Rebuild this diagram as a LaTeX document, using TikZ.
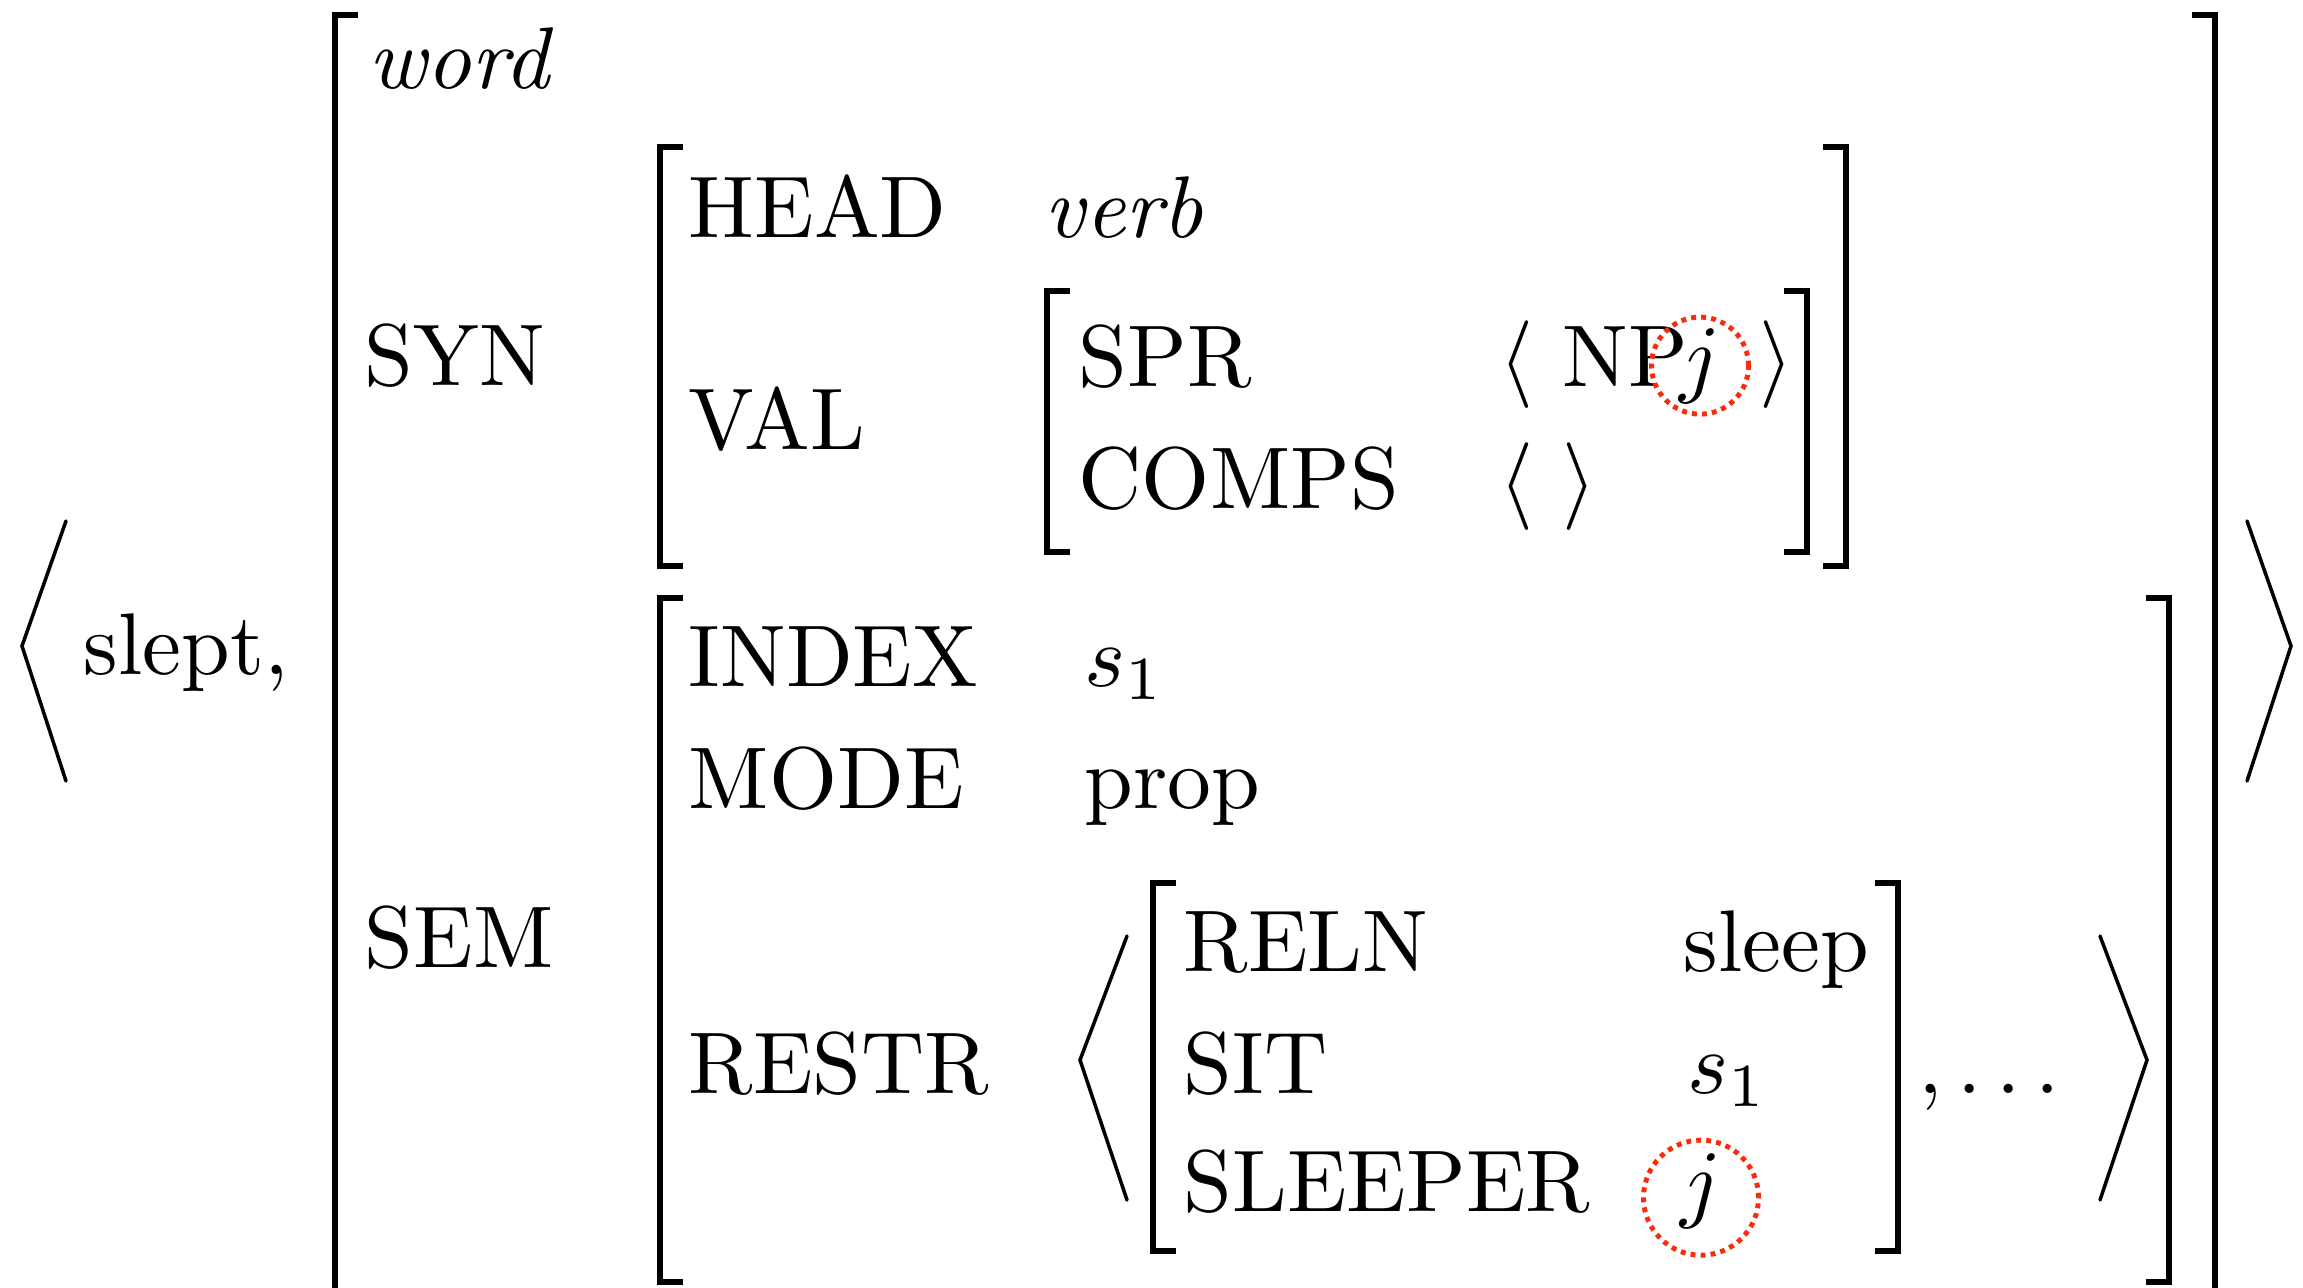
\documentclass[tikz,border=0pt]{standalone}
\usetikzlibrary{positioning}
\definecolor{corefred}{HTML}{FA2A0A}
\tikzset{
  avm/.style={font=\normalsize, scale=2.49, transform shape, inner sep=0pt, anchor=base west},
  feat/.style={avm},
  tval/.style={avm, font=\normalsize\itshape},
  brk/.style={line width=1.6pt},
  angl/.style={line width=1pt, line cap=round},
  coref/.style={circle, draw=corefred, line width=1.4pt,
    dash pattern=on 1.4pt off 1.45pt, inner sep=0pt, minimum size=#1},
}
\begin{document}
\begin{tikzpicture}[x=0.01cm,y=-0.01cm]
\useasboundingbox (0,0) rectangle (2303,1288);
\clip (0,0) rectangle (2303,1288);

% the pair
\draw[angl] (66,521) -- (22,646) -- (66,781);
\node[avm] (slept) at (82,674) {slept,};
\draw[angl] (2247,521) -- (2291,646) -- (2247,781);

% outer matrix
\draw[brk] (358,15) -| (335,1300) -- (358,1300);
\draw[brk] (2192,15) -| (2215,1300) -- (2192,1300);
\node[tval] (word) at (367,89) {word};
\node[feat] (syn) at (363,385) {SYN};
\node[feat] (sem) at (363,967) {SEM};

% SYN value
\draw[brk] (683,147) -| (660,566) -- (683,566);
\draw[brk] (1823,147) -| (1846,566) -- (1823,566);
\node[feat] (head) at (687,238) {HEAD};
\node[tval] (verb) at (1043,238) {verb};
\node[feat] (val) at (687,449) {VAL};

% VAL value
\draw[brk] (1070,291) -| (1047,552) -- (1070,552);
\draw[brk] (1784,291) -| (1807,552) -- (1784,552);
\node[feat] (spr) at (1077,386) {SPR};
\node[avm] (sprval) at (1498,386) {$\langle$\ NP};
\node[avm,anchor=base] (jspr) at (1700,386) {$j$};
\node[coref=0.97cm] (cspr) at (jspr.center) {};
\node[avm] (sprend) at (1758,386) {$\rangle$};
\node[feat] (comps) at (1077,508) {COMPS};
\node[avm] (compsval) at (1498,508) {$\langle\ \rangle$};

% SEM value
\draw[brk] (683,598) -| (660,1282) -- (683,1282);
\draw[brk] (2146,598) -| (2169,1282) -- (2146,1282);
\node[feat] (index) at (687,686) {INDEX};
\node[avm] (indexval) at (1083,686) {$s_1$};
\node[feat] (mode) at (687,808) {MODE};
\node[avm] (modeval) at (1083,808) {prop};
\node[feat] (restr) at (687,1093) {RESTR};

% RESTR list
\draw[angl] (1127,936) -- (1080,1060) -- (1127,1200);
\draw[angl] (2100,936) -- (2147,1060) -- (2100,1200);
\draw[brk] (1176,883) -| (1153,1251) -- (1176,1251);
\draw[brk] (1875,883) -| (1898,1251) -- (1875,1251);
\node[feat] (reln) at (1182,971) {RELN};
\node[avm] (relnval) at (1682,971) {sleep};
\node[feat] (sit) at (1182,1093) {SIT};
\node[avm] (sitval) at (1686,1093) {$s_1$};
\node[feat] (sleeper) at (1182,1211) {SLEEPER};
\node[avm,anchor=base] (jsleeper) at (1701,1211) {$j$};
\node[coref=1.15cm,yshift=-2pt] (csleeper) at (jsleeper.center) {};
\node[avm] (more) at (1917,1093) {$,\ldots$};

\end{tikzpicture}
\end{document}
